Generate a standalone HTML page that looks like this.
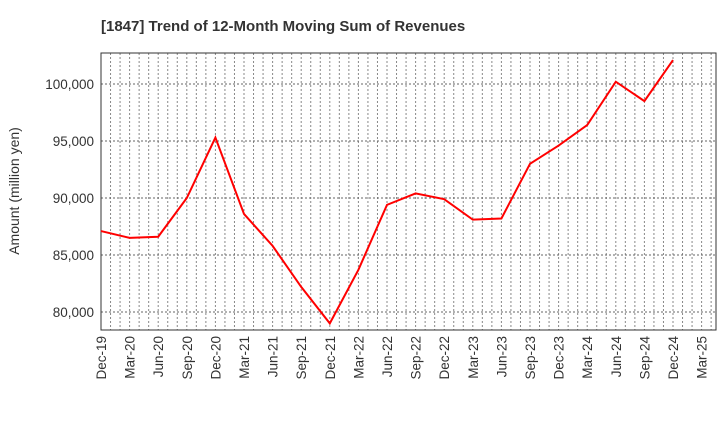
<!DOCTYPE html>
<html><head><meta charset="utf-8"><style>
body{margin:0;background:#fff;font-family:"Liberation Sans",sans-serif;}
</style></head><body>
<svg id="chart" width="720" height="440" xmlns="http://www.w3.org/2000/svg" font-family="Liberation Sans, sans-serif">
<text x="101" y="31" font-size="15" font-weight="bold" fill="#333">[1847]  Trend of 12-Month Moving Sum of Revenues</text>
<text transform="translate(19,191) rotate(-90)" text-anchor="middle" font-size="14" fill="#333">Amount (million yen)</text>
<g id="grid"></g><g id="axes"></g><g id="series"></g>
</svg>
<script>
const categories=["Dec-19","Mar-20","Jun-20","Sep-20","Dec-20","Mar-21","Jun-21","Sep-21","Dec-21","Mar-22","Jun-22","Sep-22","Dec-22","Mar-23","Jun-23","Sep-23","Dec-23","Mar-24","Jun-24","Sep-24","Dec-24","Mar-25"];
const revenues=[87100,86500,86600,90000,95300,88600,85800,82200,79000,83700,89400,90400,89900,88100,88200,93000,94600,96400,100200,98500,102100];
const yTicks=[80000,85000,90000,95000,100000];
const yTickLabels=["80,000","85,000","90,000","95,000","100,000"];
const L=101,R=716,T=53,B=330,NS="http://www.w3.org/2000/svg";
const step=28.6;
const x=i=>L+i*step;
const y=v=>312-(v-80000)*57/5000;
function mk(tag,attrs,parent){const e=document.createElementNS(NS,tag);for(const k in attrs)e.setAttribute(k,attrs[k]);document.getElementById(parent).appendChild(e);return e;}
for(let m=1;;m++){const xx=L+m*step/3;if(xx>=R)break;
const g=mk("line",{x1:xx,x2:xx,y1:T,y2:B,stroke:"#888","stroke-dasharray":"2,2","stroke-width":1},"grid");

}
yTicks.forEach((v,i)=>{
const g=mk("line",{x1:L,x2:R,y1:y(v),y2:y(v),stroke:"#666","stroke-dasharray":"2,2","stroke-width":1},"grid");


const t=mk("text",{x:L-7,y:y(v)+5,"text-anchor":"end","font-size":13.5,fill:"#333"},"axes");t.textContent=yTickLabels[i];


});
categories.forEach((c,i)=>{
const t=mk("text",{transform:`translate(${x(i)+5},336) rotate(-90)`,"text-anchor":"end","font-size":13.5,fill:"#333"},"axes");t.textContent=c;


});
const f=mk("rect",{x:L,y:T,width:R-L,height:B-T,fill:"none",stroke:"#333","stroke-width":1},"axes");


const p=mk("polyline",{points:revenues.map((v,i)=>x(i)+","+y(v)).join(" "),fill:"none",stroke:"#f00","stroke-width":2},"series");


</script>
</body></html>
